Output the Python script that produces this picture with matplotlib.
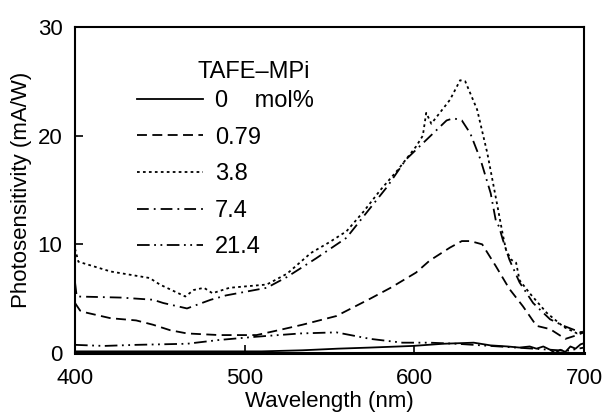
import matplotlib
matplotlib.use("Agg")
import matplotlib.pyplot as plt

plt.rcParams["font.family"] = ["Liberation Sans", "DejaVu Sans"]

# solid, 0 mol%
wl_0 = [400, 420, 450, 480, 510, 534, 555, 574, 599, 617, 635, 645, 655, 662,
        668, 672, 676, 680, 683, 686, 689, 692, 695, 698, 700]
ps_0 = [0.15, 0.15, 0.15, 0.15, 0.15, 0.25, 0.4, 0.5, 0.65, 0.85, 0.95, 0.7,
        0.6, 0.5, 0.6, 0.4, 0.6, 0.3, 0.0, 0.3, 0.1, 0.6, 0.4, 0.8, 0.9]

# 0.79 mol%
wl_079 = [400, 403, 407, 421, 436, 446, 456, 466, 485, 507, 520, 534, 554, 574,
          586, 601, 609, 621, 628, 633, 640, 648, 656, 664, 672, 680, 689, 695, 700]
ps_079 = [4.6, 3.9, 3.7, 3.2, 3.0, 2.6, 2.1, 1.8, 1.65, 1.65, 2.1, 2.6, 3.4, 5.0,
          6.0, 7.4, 8.5, 9.7, 10.3, 10.3, 10.0, 8.0, 5.9, 4.3, 2.5, 2.2, 1.3, 1.6, 1.9]

# 3.8 mol%
wl_38 = [400, 402, 421, 444, 450, 465, 470, 476, 481, 491, 513, 525, 539, 550,
         560, 570, 580, 590, 601, 605, 607, 610, 621, 627, 630, 637, 643, 649,
         652, 654, 657, 660, 662, 668, 678, 688, 696, 700]
ps_38 = [9.6, 8.4, 7.5, 6.9, 6.3, 5.2, 5.8, 6.0, 5.5, 6.0, 6.3, 7.3, 9.2, 10.2,
         11.2, 13.0, 15.0, 16.8, 19.0, 20.0, 22.1, 21.1, 23.3, 25.1, 25.0, 22.4,
         18.4, 13.5, 11.0, 9.5, 8.6, 8.3, 6.7, 5.5, 3.7, 2.4, 1.8, 2.0]

# 7.4 mol%
wl_74 = [400, 401, 427, 446, 452, 466, 480, 489, 513, 525, 542, 560, 584, 595,
         609, 619, 623, 628, 633, 639, 645, 648, 650, 652, 656, 662, 670, 680,
         688, 698, 700]
ps_74 = [6.5, 5.2, 5.1, 4.9, 4.6, 4.1, 4.9, 5.3, 6.0, 7.0, 8.7, 10.6, 15.3, 17.8,
         19.9, 21.4, 21.6, 21.4, 20.2, 17.8, 14.7, 12.2, 11.6, 10.5, 8.6, 6.5,
         4.6, 3.1, 2.5, 1.9, 1.9]

# 21.4 mol%
wl_214 = [400, 417, 436, 466, 485, 507, 533, 554, 574, 593, 609, 625, 640, 660,
          680, 690, 700]
ps_214 = [0.75, 0.65, 0.75, 0.85, 1.2, 1.5, 1.8, 1.9, 1.3, 0.95, 0.95, 0.85, 0.7,
          0.5, 0.3, 0.2, 0.5]

labels = ["0    mol%", "0.79", "3.8", "7.4", "21.4"]
legend_title = "TAFE\u2013MPi"
x_ticks = [400, 500, 600, 700]
y_ticks = [0, 10, 20, 30]

fig = plt.figure(figsize=(6.06, 4.12), dpi=100)
ax = fig.add_axes([0.1238, 0.1432, 0.8399, 0.7913])

lw = 1.3
l0, = ax.plot(wl_0, ps_0, color="black", lw=lw, linestyle="-")
l1, = ax.plot(wl_079, ps_079, color="black", lw=lw, linestyle=(0, (5.5, 3)))
l2, = ax.plot(wl_38, ps_38, color="black", lw=lw, linestyle=(0, (1.5, 1.8)))
l3, = ax.plot(wl_74, ps_74, color="black", lw=lw,
              linestyle=(0, (6.5, 2.8, 1, 2.8)))
l4, = ax.plot(wl_214, ps_214, color="black", lw=lw,
              linestyle=(0, (7, 2.5, 1, 2.5, 1, 2.5)))

ax.set_xlim(400, 700)
ax.set_ylim(0, 30)
ax.set_xticks(x_ticks)
ax.set_yticks(y_ticks)
ax.tick_params(direction="in", length=6, width=1.2, labelsize=16)
ax.tick_params(axis="x", pad=11)
ax.tick_params(axis="y", pad=9)
for side in ["left", "right", "top"]:
    ax.spines[side].set_linewidth(1.5)
ax.spines["bottom"].set_linewidth(2.2)

ax.set_xlabel("Wavelength (nm)", fontsize=16, labelpad=1)
ax.set_ylabel("Photosensitivity (mA/W)", fontsize=16, labelpad=4)

# legend title drawn separately so its gap to the first row can be tighter
ax.text(0.462, 0.862, legend_title, transform=ax.transAxes, fontsize=17,
        ha="right", va="center")
leg = ax.legend([l0, l1, l2, l3, l4], labels,
                loc="upper left", bbox_to_anchor=(0.122, 0.807),
                frameon=False, fontsize=17,
                handlelength=2.8, handletextpad=0.5, labelspacing=0.62,
                borderpad=0, borderaxespad=0)

fig.savefig("out.png", dpi=100)
